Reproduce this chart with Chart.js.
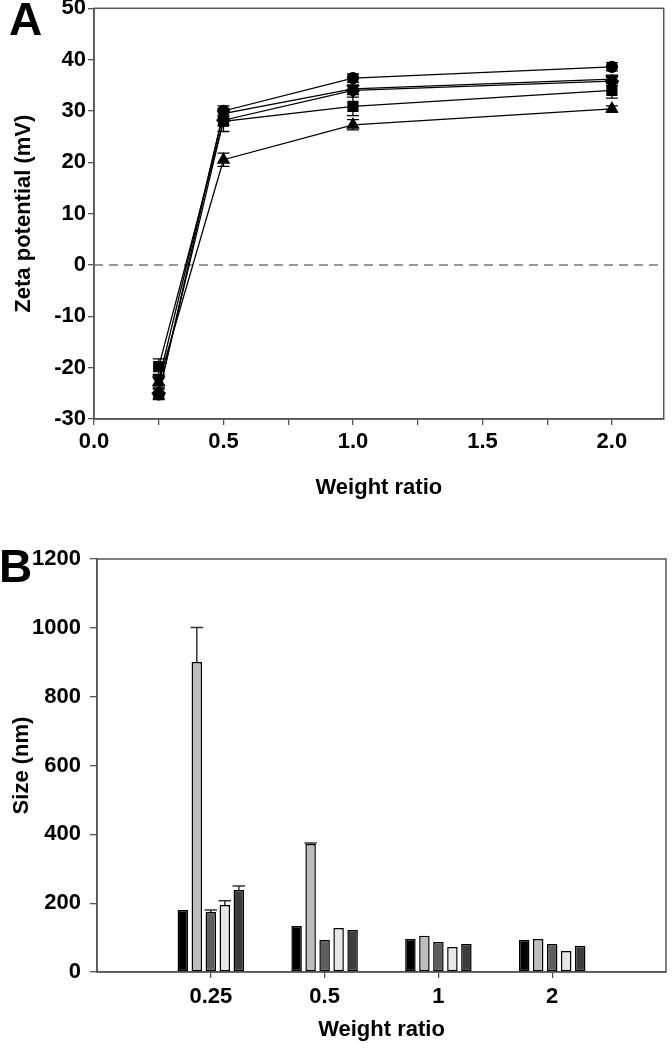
<!DOCTYPE html>
<html>
<head>
<meta charset="utf-8">
<script src="https://cdn.jsdelivr.net/npm/chart.js@4.4.1/dist/chart.umd.min.js"></script>
<style>
  body { margin: 0; background: #fff; width: 672px; height: 1050px; position: relative; overflow: hidden; }
  canvas { position: absolute; left: 0; }
  #chartA { top: 0; }
  #chartB { top: 530px; }
  .panel { position: absolute; font-family: "Liberation Sans", Arial, sans-serif; font-weight: bold; font-size: 46px; line-height: 1; }
</style>
</head>
<body>
<canvas id="chartA" width="672" height="502"></canvas>
<canvas id="chartB" width="672" height="514"></canvas>
<div class="panel" style="left:9px; top:-4px;">A</div>
<div class="panel" style="left:-1px; top:543px;">B</div>
<script>
// Panel A: zeta potential vs weight ratio
const ratiosA = [0.25, 0.5, 1.0, 2.0];
const zetaCircle = [-25.2, 30.0, 36.4, 38.6];
const zetaTriDown = [-22.5, 29.5, 34.3, 36.2];
const zetaSquare = [-19.8, 28.0, 30.9, 34.0];
const zetaDiamond = [-25.0, 28.2, 34.0, 35.8];
const zetaTriUp = [-22.8, 20.5, 27.3, 30.4];
const errCircle = [1.0, 1.0, 0.8, 0.8];
const errTriDown = [1.0, 1.0, 0.8, 0.8];
const errSquare = [1.5, 2.0, 1.8, 1.5];
const errDiamond = [1.0, 1.0, 0.8, 0.8];
const errTriUp = [1.0, 1.3, 1.0, 0.6];

// Panel B: size vs weight ratio
const ratioLabels = ['', '0.25', '0.5', '1', '2', ''];
const size1 = [null, 180, 134, 96, 93, null];
const size2 = [null, 901, 372, 105, 96, null];
const size3 = [null, 174, 93, 87, 81, null];
const size4 = [null, 195, 128, 73, 61, null];
const size5 = [null, 238, 122, 81, 76, null];
const sizeErr1 = [null, 0, 0, 0, 0, null];
const sizeErr2 = [null, 100, 3, 0, 0, null];
const sizeErr3 = [null, 6, 0, 0, 0, null];
const sizeErr4 = [null, 12, 0, 0, 0, null];
const sizeErr5 = [null, 12, 0, 0, 0, null];

const FONT = '"Liberation Sans", Arial, sans-serif';
const AXIS = '#555';
const TICK_SIZE = 22;
const TITLE_SIZE = 22;

const frame = {
  id: 'frame',
  afterDraw(chart) {
    const { ctx, chartArea: a } = chart;
    ctx.save();
    ctx.strokeStyle = AXIS;
    ctx.lineWidth = 1.5;
    ctx.strokeRect(a.left, a.top, a.right - a.left, a.bottom - a.top);
    ctx.restore();
  }
};

const zeroLine = {
  id: 'zeroLine',
  beforeDatasetsDraw(chart) {
    const { ctx, chartArea: a, scales } = chart;
    const y = scales.y.getPixelForValue(0);
    ctx.save();
    ctx.strokeStyle = '#777';
    ctx.lineWidth = 1.5;
    ctx.setLineDash([9, 6]);
    ctx.beginPath();
    ctx.moveTo(a.left, y);
    ctx.lineTo(a.right, y);
    ctx.stroke();
    ctx.restore();
  }
};

// error bars for A (both directions)
const errorBarsA = {
  id: 'errorBarsA',
  beforeDatasetsDraw(chart) {
    const { ctx, scales } = chart;
    ctx.save();
    ctx.strokeStyle = '#000';
    ctx.lineWidth = 1.3;
    chart.data.datasets.forEach(ds => {
      ds.data.forEach((p, i) => {
        const e = ds.errors[i];
        const x = scales.x.getPixelForValue(p.x);
        const y1 = scales.y.getPixelForValue(p.y + e);
        const y2 = scales.y.getPixelForValue(p.y - e);
        ctx.beginPath();
        ctx.moveTo(x, y1); ctx.lineTo(x, y2);
        ctx.moveTo(x - 6, y1); ctx.lineTo(x + 6, y1);
        ctx.moveTo(x - 6, y2); ctx.lineTo(x + 6, y2);
        ctx.stroke();
      });
    });
    ctx.restore();
  }
};

// error bars for B (upper only)
const errorBarsB = {
  id: 'errorBarsB',
  afterDatasetsDraw(chart) {
    const { ctx, scales } = chart;
    ctx.save();
    ctx.strokeStyle = '#333';
    ctx.lineWidth = 1.5;
    chart.data.datasets.forEach((ds, di) => {
      const meta = chart.getDatasetMeta(di);
      ds.data.forEach((v, i) => {
        const e = ds.errors[i];
        if (v == null || !e) return;
        const bar = meta.data[i];
        const x = bar.x;
        const y0 = scales.y.getPixelForValue(v);
        const y1 = scales.y.getPixelForValue(v + e);
        const w = bar.width / 2 + 1;
        ctx.beginPath();
        ctx.moveTo(x, y0); ctx.lineTo(x, y1);
        ctx.moveTo(x - w, y1); ctx.lineTo(x + w, y1);
        ctx.stroke();
      });
    });
    ctx.restore();
  }
};

const toXY = vals => vals.map((v, i) => ({ x: ratiosA[i], y: v }));

function lineSet(vals, errs, style, radius, rotation) {
  return {
    data: toXY(vals),
    errors: errs,
    borderColor: '#000',
    borderWidth: 1.3,
    backgroundColor: '#000',
    pointBackgroundColor: '#000',
    pointBorderColor: '#000',
    pointStyle: style,
    pointRadius: radius,
    pointRotation: rotation || 0,
    fill: false,
    tension: 0
  };
}

new Chart(document.getElementById('chartA'), {
  type: 'line',
  data: {
    datasets: [
      lineSet(zetaTriUp, errTriUp, 'triangle', 6.5),
      lineSet(zetaSquare, errSquare, 'rect', 7),
      lineSet(zetaDiamond, errDiamond, 'rectRot', 6.5),
      lineSet(zetaTriDown, errTriDown, 'triangle', 6.5, 180),
      lineSet(zetaCircle, errCircle, 'circle', 5.5)
    ]
  },
  options: {
    responsive: false,
    animation: false,
    layout: { padding: { top: 8, right: 5, left: 0, bottom: 0 } },
    plugins: { legend: { display: false }, tooltip: { enabled: false } },
    scales: {
      x: {
        type: 'linear',
        min: 0, max: 2.2,
        afterFit: s => { s.height = 83; },
        ticks: {
          stepSize: 0.25,
          includeBounds: false,
          padding: 4,
          color: '#000',
          font: { family: FONT, size: TICK_SIZE, weight: 'bold' },
          callback: v => (Math.abs(v * 2 - Math.round(v * 2)) < 1e-6 ? v.toFixed(1) : '')
        },
        grid: { drawOnChartArea: false, tickLength: 6, color: AXIS, lineWidth: 1.3 },
        border: { color: AXIS, width: 1.5 },
        title: {
          display: true, text: 'Weight ratio', color: '#000',
          font: { family: FONT, size: TITLE_SIZE, weight: 'bold' },
          padding: { top: 4, bottom: 1 }
        }
      },
      y: {
        min: -30, max: 50,
        afterFit: s => { s.width = 94; s.paddingTop = 0; s.paddingBottom = 0; },
        ticks: {
          stepSize: 10,
          padding: 2,
          color: '#000',
          font: { family: FONT, size: TICK_SIZE, weight: 'bold' }
        },
        grid: { drawOnChartArea: false, tickLength: 6, color: AXIS, lineWidth: 1.3 },
        border: { color: AXIS, width: 1.5 },
        title: {
          display: true, text: 'Zeta potential (mV)', color: '#000',
          font: { family: FONT, size: TITLE_SIZE, weight: 'bold' },
          padding: { top: 11, bottom: 0 }
        }
      }
    }
  },
  plugins: [frame, zeroLine, errorBarsA]
});

function barSet(vals, errs, color) {
  return {
    data: vals,
    errors: errs,
    backgroundColor: color,
    borderColor: '#000',
    borderWidth: 1.5,
    borderSkipped: false,
    categoryPercentage: 0.615,
    barPercentage: 0.75
  };
}

new Chart(document.getElementById('chartB'), {
  type: 'bar',
  data: {
    labels: ratioLabels,
    datasets: [
      barSet(size1, sizeErr1, '#000000'),
      barSet(size2, sizeErr2, '#bdbdbd'),
      barSet(size3, sizeErr3, '#5e5e5e'),
      barSet(size4, sizeErr4, '#e6e6e6'),
      barSet(size5, sizeErr5, '#3c3c3c')
    ]
  },
  options: {
    responsive: false,
    animation: false,
    layout: { padding: { top: 29, right: 5, left: 0, bottom: 0 } },
    plugins: { legend: { display: false }, tooltip: { enabled: false } },
    scales: {
      x: {
        offset: false,
        afterFit: s => { s.height = 72; },
        ticks: {
          padding: 6,
          autoSkip: false,
          maxRotation: 0,
          color: '#000',
          font: { family: FONT, size: TICK_SIZE, weight: 'bold' }
        },
        grid: {
          offset: false,
          drawOnChartArea: false, tickLength: 6, lineWidth: 1.3,
          color: ctx => (ctx.index === 0 || ctx.index === ratioLabels.length - 1 ? 'rgba(0,0,0,0)' : AXIS)
        },
        border: { color: AXIS, width: 1.5 },
        title: {
          display: true, text: 'Weight ratio', color: '#000',
          font: { family: FONT, size: TITLE_SIZE, weight: 'bold' },
          padding: { top: 4, bottom: 1 }
        }
      },
      y: {
        min: 0, max: 1200,
        afterFit: s => { s.width = 97; s.paddingTop = 0; s.paddingBottom = 0; },
        ticks: {
          stepSize: 200,
          padding: 9,
          color: '#000',
          font: { family: FONT, size: TICK_SIZE, weight: 'bold' },
          callback: v => String(v)
        },
        grid: { drawOnChartArea: false, tickLength: 7, color: AXIS, lineWidth: 1.3 },
        border: { color: AXIS, width: 1.5 },
        title: {
          display: true, text: 'Size (nm)', color: '#000',
          font: { family: FONT, size: TITLE_SIZE, weight: 'bold' },
          padding: { top: 9, bottom: 0 }
        }
      }
    }
  },
  plugins: [frame, errorBarsB]
});
</script>
</body>
</html>
